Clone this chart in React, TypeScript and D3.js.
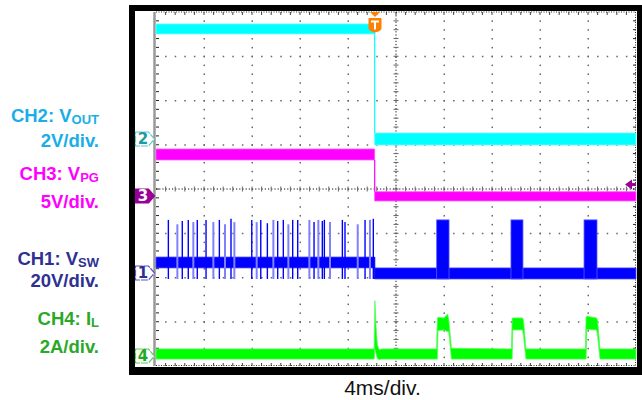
import React from 'react';
import * as d3 from 'd3';

// ---- data (read from the scope shot) ----
const TIME_DOMAIN = [0, 40]; // 10 div x 4 ms
const DIV_DOMAIN = [-4, 4]; // 8 vertical divisions
const TRIGGER_MS = 18.25;

// CH2 VOUT band [t(ms), lo(V), hi(V)]
const ch2Band = [
  [0, 4.75, 5.2],
  [18.22, 4.75, 5.2],
  [18.22, -0.27, 0.27],
  [40, -0.27, 0.27],
];
// CH3 VPG band [t, lo, hi]
const ch3Band = [
  [0, 4.07, 5.31],
  [18.22, 4.07, 5.31],
  [18.22, -0.56, 0.49],
  [40, -0.56, 0.49],
];
// CH1 VSW band [t, lo, hi]
const ch1Band = [
  [0, 2.3, 7.2],
  [18.22, 2.3, 7.2],
  [18.22, -2.7, 2.3],
  [40, -2.7, 2.3],
];
// CH1 switching pulses before trigger: time (ms) and peak (V)
const ch1SpikeTimes = [1.03, 1.78, 2.19, 2.69, 3.11, 3.44, 4.17, 4.78, 5.28, 5.75, 6.25, 6.53, 7.98, 8.39, 8.73, 9.28, 9.78, 10.14, 10.61, 11.03, 11.39, 11.81, 12.78, 13.17, 13.53, 13.86, 14.03, 14.5, 15.53, 15.75, 16.81, 17.42, 17.83, 18.11];
const ch1SpikePeaks = [24, 22, 23.5, 24, 23, 24, 24, 23, 24, 22, 24.5, 23, 24, 23, 24, 22.5, 24, 23.5, 24, 22, 24, 24, 24, 23, 24, 23.5, 24, 23, 24, 23, 22, 24, 24, 24.5];
const ch1SpikeFaint = [0, 1, 0, 0, 1, 0, 0, 1, 0, 1, 0, 1, 0, 1, 0, 0, 1, 0, 0, 1, 0, 0, 1, 0, 1, 0, 0, 1, 0, 0, 1, 0, 1, 0];
// CH1 bursts after trigger [start, end] (ms)
const ch1BurstStart = [23.39, 29.58, 35.67];
const ch1BurstEnd = [24.42, 30.58, 36.75];
const ch1BurstHigh = 24;
const ch1BurstLow = -2.7;
// CH4 IL band [t, lo(A), hi(A)]
const ch4Band = [
  [0, -0.14, 0.32],
  [18.18, -0.14, 0.32],
  [18.24, 0.3, 2.5],
  [18.34, 0.1, 1.3],
  [18.45, -0.12, 0.5],
  [18.6, -0.16, 0.28],
  [18.8, -0.14, 0.32],
  [23.38, -0.14, 0.32],
  [23.45, -0.14, 1.72],
  [23.5, 1.15, 1.75],
  [24.0, 1.18, 1.72],
  [24.3, 1.1, 1.9],
  [24.4, 1.1, 1.65],
  [24.62, -0.14, 0.35],
  [29.62, -0.14, 0.32],
  [29.68, -0.14, 1.72],
  [29.73, 1.18, 1.72],
  [30.55, 1.18, 1.72],
  [30.63, 0.9, 1.6],
  [30.83, -0.14, 0.32],
  [35.78, -0.14, 0.32],
  [35.84, -0.14, 1.75],
  [35.9, 1.2, 1.8],
  [36.72, 1.18, 1.72],
  [36.8, 0.9, 1.6],
  [37.0, -0.14, 0.32],
  [40, -0.14, 0.32],
];

const labelTitles = ['CH2: V', 'CH3: V', 'CH1: V', 'CH4: I'];
const labelSubs = ['OUT', 'PG', 'SW', 'L'];
const labelScales = ['2V/div.', '5V/div.', '20V/div.', '2A/div.'];
const channelIds = ['2', '3', '1', '4'];
const unitsPerDiv = [2, 5, 20, 2];
const timeLabel = '4ms/div.';

// ---- layout / style ----
const W = 642, H = 400;
const GX0 = 156, GX1 = 636, GY0 = 12, GY1 = 366;
const refOffsetDiv = [1.13, -0.158, -1.898, -3.774];
const labelColors = ['#1AAEE8', '#FF00FF', '#2E3192', '#2AA82A'];
const traceColors = ['#00FFFF', '#FF00FF', '#0000FF', '#00FF00'];
const markerStroke = ['#5CC8C8', '#990099', '#5555CC', '#5CC85C'];
const markerText = ['#1F9A9A', '#FFFFFF', '#2E3192', '#22AA22'];
const labelY = [[121.5, 147], [180, 207.5], [265, 286.5], [325, 353]];

const x = d3.scaleLinear().domain(TIME_DOMAIN).range([GX0, GX1]);
const yDiv = d3.scaleLinear().domain(DIV_DOMAIN).range([GY1, GY0]);
const chY = (ch: number) => (v: number) => yDiv(refOffsetDiv[ch] + v / unitsPerDiv[ch]);

function bandPath(ch: number, data: number[][]) {
  const y = chY(ch);
  return d3.area<number[]>()
    .x(d => x(d[0]))
    .y0(d => y(d[1]))
    .y1(d => y(d[2]))(data) || '';
}

function Grid() {
  const els: any[] = [];
  const divW = (GX1 - GX0) / 10;
  const divH = (GY1 - GY0) / 8;
  const cx = (GX0 + GX1) / 2, cy = (GY0 + GY1) / 2;
  for (let i = 1; i < 10; i++) {
    if (i === 5) continue;
    const gx = GX0 + i * divW;
    for (let j = 1; j < 40; j++) {
      const gy = GY0 + j * divH / 5;
      els.push(<rect key={`v${i}-${j}`} x={gx - 0.5} y={gy - 0.5} width={1.5} height={1.5} fill="#666" />);
    }
  }
  for (let j = 1; j < 8; j++) {
    if (j === 4) continue;
    const gy = GY0 + j * divH;
    for (let i = 1; i < 50; i++) {
      const gx = GX0 + i * divW / 5;
      els.push(<rect key={`h${j}-${i}`} x={gx - 0.5} y={gy - 0.5} width={1.5} height={1.5} fill="#666" />);
    }
  }
  els.push(<line key="cxl" x1={GX0} x2={GX1} y1={cy} y2={cy} stroke="#111" strokeWidth={1} strokeDasharray="1.2,2" />);
  els.push(<line key="cyl" x1={cx} x2={cx} y1={GY0} y2={GY1} stroke="#111" strokeWidth={1} strokeDasharray="1.2,2" />);
  for (let i = 1; i < 50; i++) {
    const gx = GX0 + i * divW / 5;
    els.push(<line key={`ct${i}`} x1={gx} x2={gx} y1={cy - 2.5} y2={cy + 2.5} stroke="#666" strokeWidth={1} />);
    els.push(<line key={`tt${i}`} x1={gx} x2={gx} y1={GY0} y2={GY0 + 3} stroke="#444" strokeWidth={1} />);
    els.push(<line key={`bt${i}`} x1={gx} x2={gx} y1={GY1 - 3} y2={GY1} stroke="#444" strokeWidth={1} />);
  }
  for (let j = 1; j < 40; j++) {
    const gy = GY0 + j * divH / 5;
    els.push(<line key={`cv${j}`} x1={cx - 2.5} x2={cx + 2.5} y1={gy} y2={gy} stroke="#666" strokeWidth={1} />);
    els.push(<line key={`lt${j}`} x1={GX0} x2={GX0 + 3} y1={gy} y2={gy} stroke="#222" strokeWidth={1} />);
    els.push(<line key={`rt${j}`} x1={GX1 - 3} x2={GX1} y1={gy} y2={gy} stroke="#222" strokeWidth={1} />);
  }
  els.push(<line key="bl" x1={GX0 - 1.5} x2={GX0 - 1.5} y1={GY0} y2={GY1} stroke="#999" strokeWidth={2.5} />);
  els.push(<line key="btop" x1={GX0} x2={GX1} y1={GY0} y2={GY0} stroke="#333" strokeWidth={1} strokeDasharray="1,1.5" />);
  els.push(<line key="bbot" x1={GX0} x2={GX1} y1={GY1 - 0.5} y2={GY1 - 0.5} stroke="#333" strokeWidth={1} strokeDasharray="1,1.5" />);
  els.push(<line key="bright" x1={GX1 - 0.5} x2={GX1 - 0.5} y1={GY0} y2={GY1} stroke="#333" strokeWidth={1} strokeDasharray="1,1.5" />);
  return <g>{els}</g>;
}

function Marker({ ch }: { ch: number }) {
  const yc = yDiv(refOffsetDiv[ch]);
  const filled = channelIds[ch] === '3';
  const d = `M135.5,${yc - 7} H148.5 L154.5,${yc} L148.5,${yc + 7} H135.5 Z`;
  return (
    <g>
      <path d={d} fill={filled ? '#990099' : '#fff'} stroke={markerStroke[ch]} strokeWidth={1.2} strokeDasharray={filled ? undefined : '7,1'} />
      <text x={143} y={yc + 5.5} fontFamily="DejaVu Sans, sans-serif" fontWeight="bold" fontSize={15} textAnchor="middle" fill={markerText[ch]}>{channelIds[ch]}</text>
    </g>
  );
}

export default function App() {
  const y1 = chY(2);
  const y2 = chY(0);
  const y3 = chY(1);
  const tx = x(TRIGGER_MS);
  const ty = yDiv(0.1);
  return (
    <svg width={W} height={H} style={{ position: 'absolute', left: 0, top: 0, background: '#fff' }}>
      <rect x={129} y={5} width={513} height={370} fill="#000" />
      <rect x={135} y={11} width={502} height={356} fill="#fff" />
      <Grid />

      {/* CH1 VSW */}
      <path d={bandPath(2, ch1Band)} fill={traceColors[2]} stroke="#4a4aff" strokeWidth={0.8} />
      {ch1SpikeTimes.map((t, i) => (
        <line key={`sp${i}`} x1={x(t)} x2={x(t)} y1={y1(-2.7)} y2={y1(ch1SpikePeaks[i])}
          stroke={ch1SpikeFaint[i] ? '#8080ff' : '#0000ff'} strokeWidth={ch1SpikeFaint[i] ? 2 : 1.4} />
      ))}
      {ch1BurstStart.map((t, i) => (
        <rect key={`b${i}`} x={x(t)} width={x(ch1BurstEnd[i]) - x(t)} y={y1(ch1BurstHigh)} height={y1(ch1BurstLow) - y1(ch1BurstHigh)}
          fill={traceColors[2]} stroke="#5a5aff" strokeWidth={0.8} />
      ))}
      <line x1={tx - 0.3} x2={tx - 0.3} y1={y1(7.2)} y2={y1(-2.7)} stroke={traceColors[2]} strokeWidth={1} />

      {/* CH4 IL */}
      <path d={bandPath(3, ch4Band)} fill={traceColors[3]} stroke="#55ff55" strokeWidth={0.8} />

      {/* CH3 VPG */}
      <path d={bandPath(1, ch3Band)} fill={traceColors[1]} stroke="#ff55ff" strokeWidth={0.8} />
      <line x1={tx - 0.3} x2={tx - 0.3} y1={y3(4.07)} y2={y3(0.49)} stroke={traceColors[1]} strokeWidth={1} />

      {/* CH2 VOUT */}
      <path d={bandPath(0, ch2Band)} fill={traceColors[0]} stroke="#66ffff" strokeWidth={0.8} />
      <line x1={tx - 0.3} x2={tx - 0.3} y1={GY0 + 20} y2={y2(0.27)} stroke={traceColors[0]} strokeWidth={1} />

      {[0, 1, 2, 3].map(ch => <Marker key={ch} ch={ch} />)}

      {/* trigger position marker */}
      <path d={`M${tx - 5},${GY0} L${tx + 5},${GY0} L${tx},${GY0 + 5} Z`} fill="#FF8000" />
      <path d={`M${tx - 6.5},${GY0 + 6} H${tx + 6.5} V${GY0 + 16} Q${tx + 6.5},${GY0 + 19} ${tx},${GY0 + 20.5} Q${tx - 6.5},${GY0 + 19} ${tx - 6.5},${GY0 + 16} Z`} fill="#FF8000" />
      <path d={`M${tx - 4},${GY0 + 8.5} H${tx + 4} V${GY0 + 10.5} H${tx + 1} V${GY0 + 17.5} H${tx - 1} V${GY0 + 10.5} H${tx - 4} Z`} fill="#fff" />

      {/* trigger level marker */}
      <path d={`M${GX1 - 11},${ty} L${GX1 - 4},${ty - 5} L${GX1 - 4},${ty + 5} Z`} fill="#990099" />
      <rect x={GX1 - 5} y={ty - 1.5} width={5} height={3} fill="#990099" />

      {[0, 1, 2, 3].map(ch => (
        <g key={`lab${ch}`} fontFamily="Liberation Sans, Arial, sans-serif" fontWeight="bold" fill={labelColors[ch]}>
          <text x={99} y={labelY[ch][0]} fontSize={18.5} textAnchor="end">
            {labelTitles[ch]}<tspan fontSize={13} dy={2}>{labelSubs[ch]}</tspan>
          </text>
          <text x={99} y={labelY[ch][1]} fontSize={18.5} textAnchor="end">{labelScales[ch]}</text>
        </g>
      ))}

      <text x={382.5} y={395} fontFamily="Liberation Sans, Arial, sans-serif" fontSize={21} textAnchor="middle" fill="#111">{timeLabel}</text>
    </svg>
  );
}
